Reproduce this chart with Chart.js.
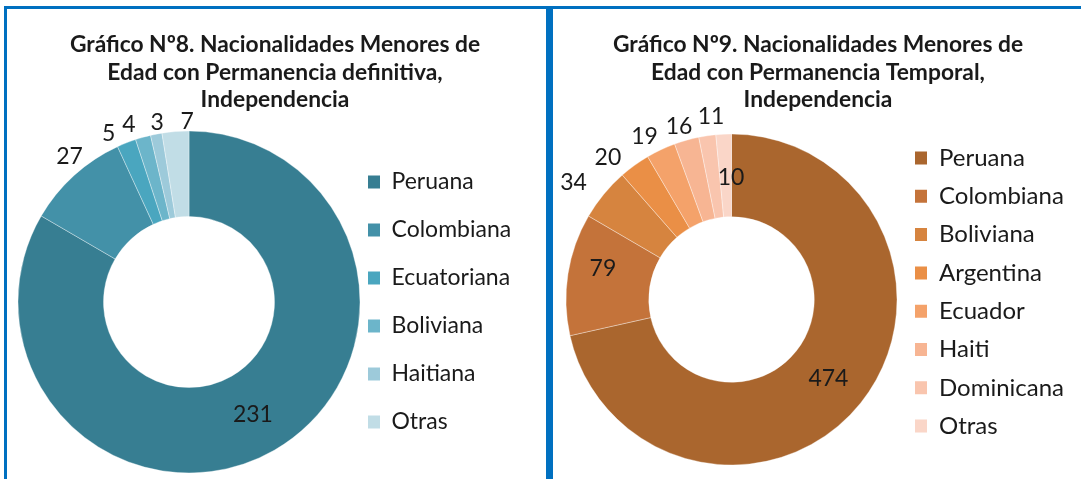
<!DOCTYPE html>
<html>
<head>
<meta charset="utf-8">
<script src="https://cdn.jsdelivr.net/npm/chart.js@4.4.1/dist/chart.umd.min.js"></script>
<style>
html, body { margin: 0; padding: 0; background: #fff; overflow: hidden; width: 1081px; height: 479px; }
.panel { position: absolute; top: 6px; height: 480px; border-top: 3px solid #0070C0; border-left: 3px solid #0070C0; }
#pA { left: 4px; width: 539px; border-right: 4px solid #0070C0; }
#pB { left: 550px; width: 600px; }
canvas { position: absolute; left: 0; top: 0; }
</style>
</head>
<body>
<div class="panel" id="pA"><canvas id="c8" width="539" height="470"></canvas></div>
<div class="panel" id="pB"><canvas id="c9" width="600" height="470"></canvas></div>
<script>
// Gráfico Nº8 - permanencia definitiva
var title8 = ["Gráfico Nº8. Nacionalidades Menores de", "Edad con Permanencia definitiva,", "Independencia"];
var labels8 = ["Peruana", "Colombiana", "Ecuatoriana", "Boliviana", "Haitiana", "Otras"];
var values8 = [231, 27, 5, 4, 3, 7];
var colors8 = ["#377E92", "#4391A8", "#4AA6BF", "#6CB5CA", "#9DCADA", "#C1DDE6"];

// Gráfico Nº9 - permanencia temporal
var title9 = ["Gráfico Nº9. Nacionalidades Menores de", "Edad con Permanencia Temporal,", "Independencia"];
var labels9 = ["Peruana", "Colombiana", "Boliviana", "Argentina", "Ecuador", "Haiti", "Dominicana", "Otras"];
var values9 = [474, 79, 34, 20, 19, 16, 11, 10];
var colors9 = ["#AA662E", "#C4733A", "#D6843F", "#EA8F46", "#F4A26A", "#F7B593", "#F9C5AE", "#FAD6C8"];

// where each value label sits: fraction of outer radius, angle nudge in degrees
var labelR8 = [0.75, 1.105, 1.094, 1.10, 1.07, 1.06];
var labelNudge8 = [0, 3, -4, -3, 1, 4];
var labelR9 = [0.75, 0.80, 1.19, 1.14, 1.12, 1.095, 1.12, 0.74];
var labelNudge9 = [0, 5, -2.8, -5.1, -2.7, -1.1, 2.1, 2.5];

var FONT = "Lato, 'Open Sans', sans-serif";

function valueLabels(radius, nudge) {
	return {
		id: "valueLabels",
		afterDatasetsDraw: function (chart) {
			var ctx = chart.ctx;
			var meta = chart.getDatasetMeta(0);
			var vals = chart.data.datasets[0].data;
			ctx.save();
			ctx.font = "23px " + FONT;
			ctx.fillStyle = "#1a1a1a";
			ctx.textAlign = "center";
			ctx.textBaseline = "middle";
			meta.data.forEach(function (arc, i) {
				var p = arc.getProps(["x", "y", "startAngle", "endAngle", "outerRadius"], true);
				var a = (p.startAngle + p.endAngle) / 2 + nudge[i] * Math.PI / 180;
				var r = p.outerRadius * radius[i];
				ctx.fillText(String(vals[i]), p.x + Math.cos(a) * r, p.y + Math.sin(a) * r + 1);
			});
			ctx.restore();
		}
	};
}

//legend squares without the slice border
function noBorderLabels(chart) {
	var items = Chart.overrides.doughnut.plugins.legend.labels.generateLabels(chart);
	items.forEach(function (it) { it.lineWidth = 0; });
	return items;
}

function makeChart(id, title, labels, values, colors, o) {
	return new Chart(document.getElementById(id), {
		type: "doughnut",
		data: {
			labels: labels,
			datasets: [{
				data: values,
				backgroundColor: colors,
				borderColor: "rgba(255,255,255,0.35)",
				borderWidth: 1
			}]
		},
		options: {
			responsive: false,
			animation: false,
			devicePixelRatio: 1,
			cutout: "50%",
			radius: o.radius,
			layout: { padding: o.padding },
			plugins: {
				title: {
					display: true,
					text: title,
					color: "#1a1a1a",
					font: { family: FONT, size: 22.8, weight: "bold", lineHeight: 27.5 / 22.8 },
					padding: o.titlePad
				},
				legend: {
					position: "right",
					fullSize: false,
					align: o.legendAlign,
					maxWidth: o.legendWidth,
					labels: {
						boxWidth: 12,
						boxHeight: 13,
						padding: o.legendPad,
						color: "#1a1a1a",
						font: { family: FONT, size: o.legendSize },
						generateLabels: noBorderLabels
					}
				},
				tooltip: { enabled: false }
			}
		},
		plugins: [valueLabels(o.labelR, o.labelNudge)]
	});
}

makeChart("c8", title8, labels8, values8, colors8, {
	radius: 171,
	padding: { left: 28, right: 31, top: 0, bottom: 6 },
	titlePad: { top: 22.25, bottom: 17.25 },
	legendAlign: "center",
	legendWidth: 172,
	legendSize: 23,
	legendPad: 25,
	labelR: labelR8, labelNudge: labelNudge8
});

makeChart("c9", title9, labels9, values9, colors9, {
	radius: 165.5,
	padding: { left: 9.3, right: 79.3, top: 0, bottom: 11.7 },
	titlePad: { top: 22.25, bottom: 17.95 },
	legendAlign: "start",
	legendWidth: 173,
	legendSize: 24,
	legendPad: 14.3,
	labelR: labelR9, labelNudge: labelNudge9
});
</script>
</body>
</html>
